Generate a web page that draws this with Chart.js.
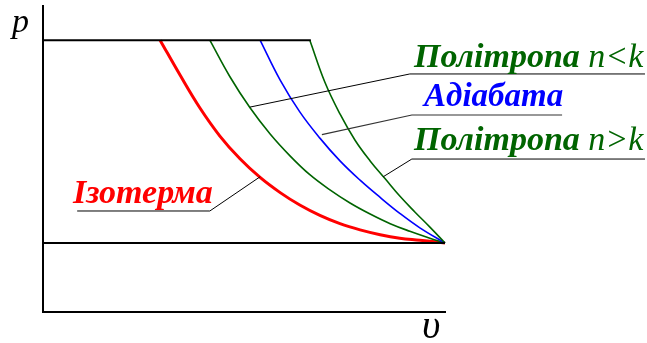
<!DOCTYPE html>
<html>
<head>
  <meta charset="UTF-8">
  <title>p-v diagram</title>
  <script src="https://cdn.jsdelivr.net/npm/chart.js"></script>
  <style>
    body { margin: 0; background: #fff; }
    .wrap { position: relative; width: 647px; height: 343px; }
    .lbl { position: absolute; font-family: "Liberation Serif", "DejaVu Serif", serif; font-style: italic; white-space: nowrap; line-height: 1; font-size: 34px; }
    .b { font-weight: bold; }
    .nb { font-weight: normal; }
  </style>
</head>
<body>
  <div class="wrap">
    <canvas id="pv" width="647" height="343"></canvas>
    <div class="lbl" style="left:12px; top:4px; font-size:34px;">p</div>
    <div class="lbl" style="left:422px; top:305px; font-size:40px;">υ</div>
    <div class="lbl b" style="left:414px; top:39px; color:#006400;">Політропа <span class="nb">n&lt;k</span></div>
    <div class="lbl b" style="left:424px; top:79px; font-size:33px; color:#0000ff;">Адіабата</div>
    <div class="lbl b" style="left:414px; top:122px; color:#006400;">Політропа <span class="nb">n&gt;k</span></div>
    <div class="lbl b" style="left:73px; top:175px; color:#ff0000;">Ізотерма</div>
  </div>
  <script>
    // axis ranges (v, p)
    const vMax = 8;
    const pMax = 4.435;

    // isobars
    const topLine = [[0, 3.94], [5.33, 3.94]];
    const bottomLine = [[0, 1], [8, 1]];

    // curves: [v, p]
    const isotherm = [[2.33, 3.94], [2.73, 3.43], [3.12, 2.96], [3.52, 2.55], [3.92, 2.22], [4.32, 1.95], [4.72, 1.73],
      [5.11, 1.55], [5.51, 1.40], [5.91, 1.28], [6.31, 1.19], [6.71, 1.12], [7.10, 1.07], [7.50, 1.04], [8, 1]];
    const polyLow = [[3.32, 3.94], [3.72, 3.41], [4.12, 2.96], [4.52, 2.58], [4.92, 2.26], [5.31, 1.99], [5.71, 1.77],
      [6.11, 1.58], [6.51, 1.42], [6.91, 1.28], [7.30, 1.17], [7.70, 1.07], [8, 1]];
    const adiabat = [[4.32, 3.94], [4.72, 3.36], [5.11, 2.90], [5.51, 2.52], [5.91, 2.19], [6.31, 1.91], [6.71, 1.66],
      [7.10, 1.43], [7.50, 1.22], [8, 1]];
    const polyHigh = [[5.31, 3.94], [5.61, 3.33], [5.91, 2.87], [6.21, 2.49], [6.51, 2.19], [6.81, 1.93], [7.10, 1.68],
      [7.40, 1.45], [7.70, 1.23], [8, 1]];

    // leader lines to the labels
    const leadLow = [[4.12, 2.97], [7.30, 3.45], [11.98, 3.45]];
    const leadAdiabat = [[5.55, 2.57], [7.34, 2.855], [10.33, 2.855]];
    const leadHigh = [[6.77, 1.96], [7.34, 2.217], [11.98, 2.217]];
    const leadIso = [[4.32, 1.96], [3.32, 1.464], [0.68, 1.464]];

    const pts = arr => arr.map(([x, y]) => ({ x, y }));

    function line(data, color, width, smooth) {
      return {
        data: pts(data),
        borderColor: color,
        borderWidth: width,
        pointRadius: 0,
        fill: false,
        clip: false,
        tension: smooth ? 0.4 : 0
      };
    }

    new Chart(document.getElementById('pv').getContext('2d'), {
      type: 'line',
      data: {
        datasets: [
          line(topLine, '#000', 2, false),
          line(bottomLine, '#000', 2, false),
          line(leadLow, '#000', 1, false),
          line(leadAdiabat, '#333', 1.2, false),
          line(leadHigh, '#000', 1, false),
          line(leadIso, '#000', 1, false),
          line(polyHigh, '#006400', 1.6, true),
          line(adiabat, '#0000ff', 1.6, true),
          line(polyLow, '#006400', 1.6, true),
          line(isotherm, '#ff0000', 3, true)
        ]
      },
      options: {
        responsive: false,
        animation: false,
        layout: { padding: { left: 43, top: 6, right: 202, bottom: 31 } },
        plugins: { legend: { display: false }, tooltip: { enabled: false } },
        scales: {
          x: {
            type: 'linear', min: 0, max: vMax,
            grid: { display: false, drawTicks: false },
            ticks: { display: false },
            border: { display: true, color: '#000', width: 2 }
          },
          y: {
            type: 'linear', min: 0, max: pMax,
            grid: { display: false, drawTicks: false },
            ticks: { display: false },
            border: { display: true, color: '#000', width: 2 }
          }
        }
      }
    });
  </script>
</body>
</html>
